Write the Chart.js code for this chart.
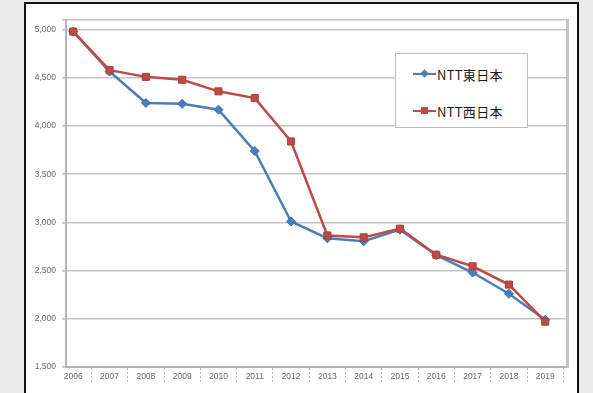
<!DOCTYPE html>
<html>
<head>
<meta charset="utf-8">
<script src="https://cdn.jsdelivr.net/npm/chart.js@4"></script>
<style>
  html, body { margin: 0; padding: 0; }
  body { width: 593px; height: 393px; background: #ebebeb; position: relative; overflow: hidden; font-family: 'Noto Sans CJK JP', 'Noto Sans', sans-serif; }
  #frame { position: absolute; left: 24px; top: 2px; width: 551px; height: 400px; border: 2px solid #111; background: #fff; }
  #wrap { position: absolute; left: 0; top: 0; width: 593px; height: 393px; }
  #legend { position: absolute; left: 395px; top: 53px; width: 131px; height: 73px; border: 1px solid #bdbdbd; background: #fff; }
  .item { position: absolute; left: 17px; height: 16px; display: flex; align-items: center; font-size: 13px; color: #1a1a1a; letter-spacing: 0.3px; }
  .sym { position: relative; width: 23px; height: 16px; margin-right: 1px; }
  .sym .ln { position: absolute; left: 0; right: 0; top: 7px; height: 2px; }
  .sym .mk { position: absolute; left: 8px; top: 4px; width: 7px; height: 7px; }
</style>
</head>
<body>
<div id="frame"></div>
<div id="wrap"><canvas id="chart" width="593" height="393"></canvas></div>
<div id="legend"></div>
<script>
// NTT東日本 / NTT西日本 推移

const years = [2006, 2007, 2008, 2009, 2010, 2011, 2012, 2013, 2014, 2015, 2016, 2017, 2018, 2019];
const east = [4980, 4565, 4240, 4230, 4170, 3740, 3010, 2835, 2805, 2925, 2660, 2480, 2260, 1990];
const west = [4980, 4580, 4510, 4480, 4360, 4290, 3840, 2865, 2845, 2935, 2665, 2545, 2355, 1970];
const yTicks = [1500, 2000, 2500, 3000, 3500, 4000, 4500, 5000, 5100];

const BLUE = '#4a7ebb';
const RED = '#be4b48';

new Chart(document.getElementById('chart'), {
  type: 'line',
  data: {
    datasets: [
      { label: 'NTT西日本', data: years.map((y, i) => ({ x: y, y: west[i] })), borderColor: RED, backgroundColor: RED,
        borderWidth: 2.5, pointStyle: 'rect', pointRadius: 5, pointBorderWidth: 1, pointBorderColor: '#a8403d', order: 0 },
      { label: 'NTT東日本', data: years.map((y, i) => ({ x: y, y: east[i] })), borderColor: BLUE, backgroundColor: BLUE,
        borderWidth: 2.5, pointStyle: 'rectRot', pointRadius: 4.5, pointBorderWidth: 1, pointBorderColor: '#3f6ea8', order: 1 }
    ]
  },
  options: {
    responsive: false,
    animation: false,
    layout: { padding: { left: 30, right: 26, top: 20, bottom: 0 } },
    plugins: { legend: { display: false }, tooltip: { enabled: false } },
    scales: {
      x: {
        type: 'linear',
        min: 2005.8,
        max: 2019.6,
        afterBuildTicks: s => { s.ticks = years.map(v => ({ value: v })); },
        afterFit: s => { s.height = 26; },
        grid: { drawOnChartArea: false, offset: true, tickLength: 17, color: '#b8b8b8', tickBorderDash: [2, 2] },
        border: { color: '#b5b5b5', width: 2 },
        ticks: { padding: -12, maxRotation: 0, autoSkip: false, color: '#666', font: { size: 8.5 }, callback: v => String(v) }
      },
      y: {
        min: 1500,
        max: 5100,
        afterBuildTicks: s => { s.ticks = yTicks.map(v => ({ value: v })); },
        afterFit: s => { s.width = 36; },
        grid: { color: '#c4c4c4', lineWidth: 1.6, tickLength: 4 },
        border: { color: '#b5b5b5', width: 2 },
        ticks: { padding: 6, color: '#666', font: { size: 8.5 }, callback: v => (v % 500 === 0 ? v.toLocaleString('en-US') : '') }
      },
      y2: {
        position: 'right',
        min: 1500,
        max: 5100,
        afterFit: s => { s.width = 0; },
        grid: { drawOnChartArea: false, drawTicks: false },
        border: { color: '#c4c4c4', width: 3 },
        ticks: { display: false }
      }
    }
  }
});

// legend (blue first, as in the original)
const legendItems = [
  { label: 'NTT東日本', color: BLUE, diamond: true },
  { label: 'NTT西日本', color: RED, diamond: false }
];
const legend = document.getElementById('legend');
legendItems.forEach((it, i) => {
  const row = document.createElement('div');
  row.className = 'item';
  row.style.top = (12 + i * 37) + 'px';
  row.innerHTML = '<span class="sym"><span class="ln" style="background:' + it.color + '"></span>' +
    '<span class="mk" style="background:' + it.color + (it.diamond ? ';transform:rotate(45deg) scale(0.85)' : '') + '"></span></span>' +
    '<span>' + it.label + '</span>';
  legend.appendChild(row);
});
</script>
</body>
</html>
